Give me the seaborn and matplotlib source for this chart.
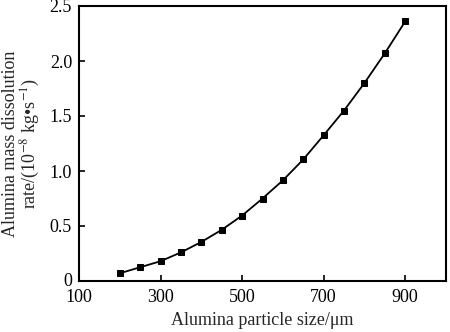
import matplotlib
matplotlib.use("Agg")
import matplotlib.pyplot as plt
import matplotlib.transforms as mtransforms
import seaborn as sns
import pandas as pd

# Particle size (µm) and mass dissolution rate (1e-8 kg/s)
particle_size = [200, 250, 300, 350, 400, 450, 500, 550, 600, 650, 700, 750, 800, 850, 900]
dissolution_rate = [0.07, 0.125, 0.18, 0.26, 0.355, 0.465, 0.595, 0.75, 0.915, 1.105,
                    1.325, 1.55, 1.80, 2.07, 2.36]
x_ticks = [100, 300, 500, 700, 900]
y_ticks = [0, 0.5, 1.0, 1.5, 2.0, 2.5]
y_tick_labels = ["0", "0.5", "1.0", "1.5", "2.0", "2.5"]

sns.set_theme(style="ticks")
plt.rcParams["font.family"] = ["Liberation Serif", "DejaVu Serif"]
plt.rcParams["mathtext.fontset"] = "stix"

df = pd.DataFrame({"size": particle_size, "rate": dissolution_rate})

fig = plt.figure(figsize=(4.5, 3.32), dpi=100)
ax = fig.add_axes([79 / 450, 1 - 281 / 332, (446 - 79) / 450, (281 - 6) / 332])

sns.lineplot(data=df, x="size", y="rate", ax=ax, color="black", linewidth=1.3,
             marker="s", markersize=5.0, markeredgecolor="black",
             markerfacecolor="black")

ax.set_xlim(100, 1000)
ax.set_ylim(0, 2.5)
ax.set_xticks(x_ticks)
ax.set_yticks(y_ticks)
ax.set_yticklabels(y_tick_labels)
ax.tick_params(direction="in", length=4, width=1.2, labelsize=13, colors="black")
ax.tick_params(axis="x", pad=6)
ax.tick_params(axis="y", pad=5)
for s in ax.spines.values():
    s.set_linewidth(1.5)
    s.set_color("black")

# lift the corner "0" so it sits clear of the "100" below it
zero_label = ax.get_yticklabels()[0]
zero_label.set_transform(zero_label.get_transform() +
                         mtransforms.ScaledTranslation(0, 2 / 100, fig.dpi_scale_trans))

ax.set_xlabel("Alumina particle size/\u03bcm", fontsize=13, labelpad=4)
ax.set_ylabel("Alumina mass dissolution\nrate/(10$^{-8}$ kg\u2022s$^{-1}$)",
              fontsize=13, linespacing=0.95, va="center", ha="center")
ax.yaxis.set_label_coords(-57 / 367, 0.5)

fig.savefig("out.png", dpi=100)
